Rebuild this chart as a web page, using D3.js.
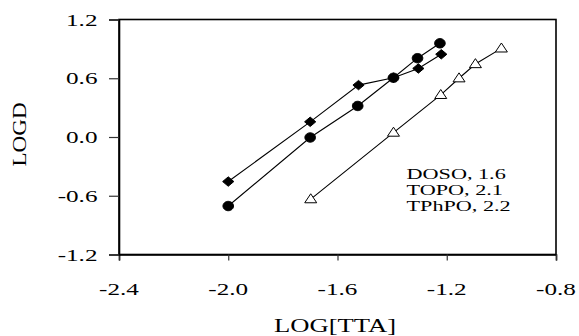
<!DOCTYPE html>
<html><head><meta charset="utf-8">
<script src="https://cdn.jsdelivr.net/npm/d3@7"></script>
<style>
html,body{margin:0;padding:0;background:#fff;}
svg{display:block;}
text{font-family:"Liberation Serif","Times New Roman",serif;fill:#000;}
</style></head>
<body><svg id="c" width="579" height="336"></svg>
<script>
// ---- data ----
const xTicks = [-2.4, -2.0, -1.6, -1.2, -0.8];
const yTicks = [-1.2, -0.6, 0.0, 0.6, 1.2];
const dosoX = [-2.0, -1.70, -1.523, -1.395, -1.304, -1.220];
const dosoY = [-0.455, 0.155, 0.530, 0.605, 0.700, 0.845];
const topoX = [-2.0, -1.70, -1.526, -1.395, -1.307, -1.225];
const topoY = [-0.705, -0.005, 0.317, 0.605, 0.805, 0.957];
const tphpoX = [-1.698, -1.395, -1.222, -1.155, -1.095, -1.000];
const tphpoY = [-0.635, 0.045, 0.430, 0.600, 0.745, 0.905];
const legendLines = ["DOSO, 1.6", "TOPO, 2.1", "TPhPO, 2.2"];
const xTitle = "LOG[TTA]";
const yTitle = "LOGD";

// ---- layout ----
const svg = d3.select("#c");
const L = 119, R = 556, T = 19.5, B = 254.5;
const x = d3.scaleLinear().domain([-2.4, -0.8]).range([L, R]);
const y = d3.scaleLinear().domain([-1.2, 1.2]).range([B, T]);
const SX = 1.48;

// frame
svg.append("rect").attr("x", L).attr("y", T).attr("width", R - L).attr("height", B - T)
  .attr("fill", "none").attr("stroke", "#000").attr("stroke-width", 1.6);

// axes
const fmt = d => d.toFixed(1);
const gx = svg.append("g").attr("transform", `translate(0,${B})`)
  .call(d3.axisBottom(x).tickValues(xTicks).tickSize(6).tickFormat(""));
const gy = svg.append("g").attr("transform", `translate(${L},0)`)
  .call(d3.axisLeft(y).tickValues(yTicks).tickSize(10).tickFormat(""));
[gx, gy].forEach(g => {
  g.select(".domain").attr("stroke", "#000").attr("stroke-width", 1.6);
  g.selectAll(".tick line").attr("stroke", "#333").attr("stroke-width", 1.2);
});

function stretchText(px, py, str, size, anchor, sx, rot) {
  const g = svg.append("g").attr("transform", `translate(${px},${py})` + (rot ? ` rotate(${rot})` : ""));
  g.append("text").attr("transform", `scale(${sx},1)`).attr("text-anchor", anchor)
    .attr("font-size", size).text(str);
}

xTicks.forEach(v => stretchText(x(v), 294.5, fmt(v), 17, "middle", SX));
yTicks.forEach(v => stretchText(97.5, y(v) + 6.2, fmt(v), 17, "end", SX));

stretchText(335, 331.5, xTitle, 18.5, "middle", 1.44);
stretchText(25.5, 134.5, yTitle, 18.5, "middle", 1.25, -90);

legendLines.forEach((s, i) => stretchText(406.5, 178.5 + i * 16.2, s, 15, "start", SX));

// ---- symbols ----
const diamondType = { draw(ctx, size) { const w = 5.6, h = 4.7;
  ctx.moveTo(0, -h); ctx.lineTo(w, 0); ctx.lineTo(0, h); ctx.lineTo(-w, 0); ctx.closePath(); } };
const ellipseType = { draw(ctx, size) { const rx = 5.3, ry = 4.7, n = 32;
  for (let i = 0; i <= n; i++) { const a = i / n * 2 * Math.PI;
    const px = rx * Math.cos(a), py = ry * Math.sin(a);
    if (i === 0) ctx.moveTo(px, py); else ctx.lineTo(px, py); } ctx.closePath(); } };
const triType = { draw(ctx, size) { const w = 6, h = 9;
  ctx.moveTo(0, -h * 0.6); ctx.lineTo(w, h * 0.4); ctx.lineTo(-w, h * 0.4); ctx.closePath(); } };

const series = [
  { xs: dosoX, ys: dosoY, type: diamondType, fill: "#000" },
  { xs: topoX, ys: topoY, type: ellipseType, fill: "#000" },
  { xs: tphpoX, ys: tphpoY, type: triType, fill: "#fff" }
];
const line = d3.line().x(d => x(d[0])).y(d => y(d[1]));
series.forEach(s => {
  const pts = s.xs.map((v, i) => [v, s.ys[i]]);
  svg.append("path").datum(pts).attr("d", line).attr("fill", "none")
    .attr("stroke", "#000").attr("stroke-width", 1.1);
});
series.forEach(s => {
  const pts = s.xs.map((v, i) => [v, s.ys[i]]);
  svg.append("g").selectAll("path").data(pts).join("path")
    .attr("transform", d => `translate(${x(d[0])},${y(d[1])})`)
    .attr("d", d3.symbol().type(s.type).size(64))
    .attr("fill", s.fill).attr("stroke", "#000").attr("stroke-width", 1);
});
</script></body></html>
